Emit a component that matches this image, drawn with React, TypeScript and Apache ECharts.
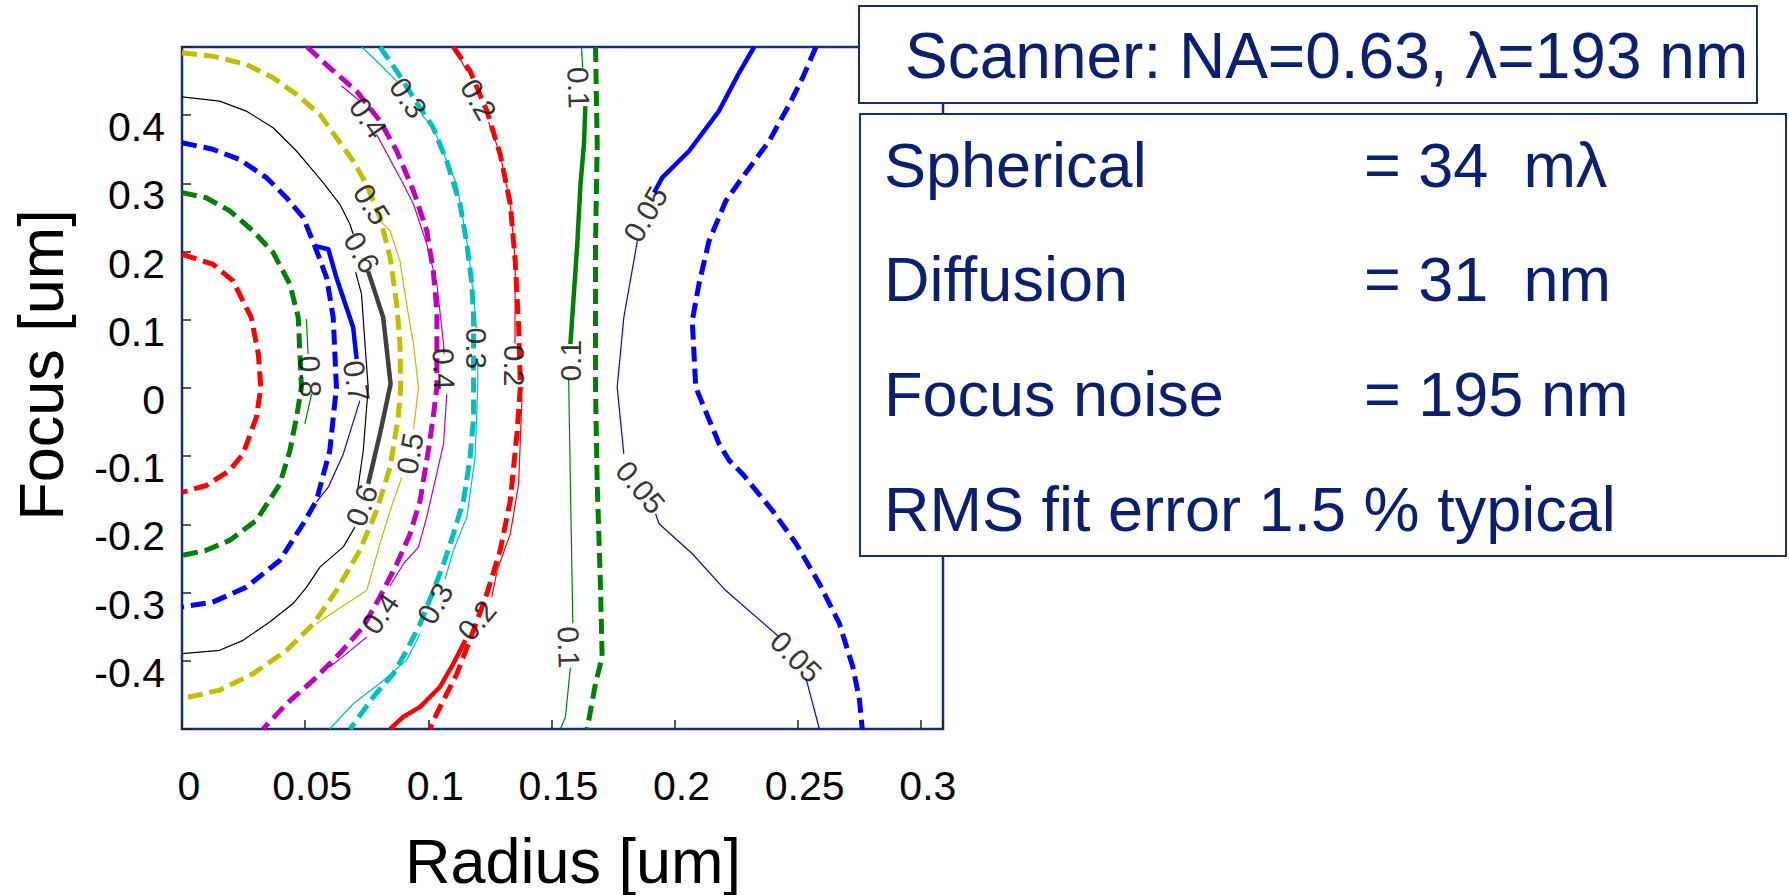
import React, { useEffect, useRef } from 'react';
import * as echarts from 'echarts';

type P = [number, number];

// ---------- axes ----------
const xMin = 0;
const xMax = 0.309;
const xStep = 0.05;
const yMin = -0.5;
const yMax = 0.5;
const yStep = 0.1;
const xTitle = 'Radius [um]';
const yTitle = 'Focus [um]';

// ---------- model contours (thick dashed) ----------
const dash09: P[] = [[0,0.196],[0.0125,0.1815],[0.0207,0.157],[0.0281,0.1035],[0.031,0.05],[0.032,0.0],[0.0302,-0.043],[0.0248,-0.0966],[0.0193,-0.121],[0.0098,-0.143],[0,-0.153]];
const dash08: P[] = [[0,0.2865],[0.0098,0.279],[0.0193,0.26],[0.0288,0.2304],[0.037,0.1986],[0.0438,0.1523],[0.0472,0.1035],[0.0485,0.001],[0.0465,-0.043],[0.0438,-0.092],[0.0397,-0.141],[0.0302,-0.194],[0.0193,-0.2235],[0.0098,-0.238],[0,-0.2455]];
const dash07: P[] = [[0,0.3597],[0.0125,0.35],[0.0234,0.335],[0.0343,0.3084],[0.0424,0.279],[0.0492,0.25],[0.0539,0.2084],[0.0587,0.162],[0.0614,0.1035],[0.0627,0.001],[0.06,-0.092],[0.0546,-0.165],[0.0492,-0.199],[0.0397,-0.253],[0.0261,-0.292],[0.0125,-0.314],[0,-0.321]];
const dash05: P[] = [[0,0.4915],[0.0125,0.4866],[0.0261,0.4744],[0.037,0.4549],[0.0465,0.4305],[0.056,0.4012],[0.0627,0.367],[0.0695,0.3328],[0.0749,0.2987],[0.0804,0.2499],[0.0845,0.1913],[0.0872,0.123],[0.0885,0.0644],[0.0888,0.001],[0.0878,-0.043],[0.0845,-0.116],[0.079,-0.18],[0.0722,-0.238],[0.0627,-0.297],[0.0533,-0.346],[0.0424,-0.385],[0.0288,-0.419],[0.0153,-0.443],[0,-0.4554]];
const dash04: P[] = [[0.0508,0.5],[0.06,0.4695],[0.0709,0.4353],[0.0804,0.3914],[0.0872,0.3475],[0.094,0.2889],[0.0994,0.2304],[0.102,0.1718],[0.1035,0.1132],[0.1035,0.001],[0.102,-0.043],[0.1,-0.092],[0.0967,-0.165],[0.0926,-0.214],[0.0872,-0.258],[0.0804,-0.306],[0.0736,-0.35],[0.0641,-0.389],[0.0533,-0.4285],[0.0424,-0.463],[0.0329,-0.5]];
const dash03: P[] = [[0.0804,0.5],[0.0872,0.4646],[0.094,0.4256],[0.102,0.3817],[0.1075,0.3328],[0.1129,0.2694],[0.1157,0.2108],[0.1177,0.1523],[0.1184,0.1035],[0.1184,0.001],[0.1184,-0.043],[0.117,-0.1015],[0.1143,-0.165],[0.1102,-0.214],[0.1062,-0.258],[0.1021,-0.297],[0.0967,-0.3456],[0.0912,-0.385],[0.0858,-0.419],[0.0777,-0.453],[0.0682,-0.5]];
const dash02: P[] = [[0.1102,0.5],[0.117,0.4646],[0.1238,0.406],[0.1292,0.3426],[0.1333,0.2694],[0.1353,0.1864],[0.1367,0.0888],[0.1374,0.001],[0.136,-0.067],[0.1333,-0.165],[0.1292,-0.238],[0.1238,-0.3016],[0.1184,-0.355],[0.1116,-0.419],[0.1035,-0.477],[0.1007,-0.5]];
const dash01: P[] = [[0.1679,0.5],[0.1686,0.357],[0.1679,0.2108],[0.1679,0.001],[0.1686,-0.1406],[0.1699,-0.287],[0.1706,-0.3944],[0.1679,-0.4334],[0.1645,-0.5]];
const dash005: P[] = [[0.2574,0.5],[0.252,0.4549],[0.2466,0.4158],[0.2384,0.3621],[0.2275,0.3084],[0.2208,0.2743],[0.214,0.2157],[0.2099,0.1523],[0.2072,0.0986],[0.2086,0.001],[0.2181,-0.082],[0.2222,-0.1064],[0.2276,-0.126],[0.2398,-0.18],[0.2493,-0.228],[0.2588,-0.287],[0.2669,-0.345],[0.2724,-0.409],[0.2751,-0.458],[0.2762,-0.5]];

// ---------- measured contours (thin, broken at labels) ----------
const thin005: P[][] = [
  [[0.1849,0.2157],[0.1794,0.1035],[0.1767,0.001],[0.1794,-0.0966]],
  [[0.1923,-0.1845],[0.1937,-0.199],[0.2072,-0.243],[0.2208,-0.297],[0.2425,-0.365]],
  [[0.2534,-0.426],[0.2588,-0.5]],
];
const thin01: P[][] = [
  [[0.1622,0.5],[0.1627,0.4695]],
  [[0.157,0.012],[0.1577,-0.1406],[0.1587,-0.345]],
  [[0.1577,-0.41],[0.1557,-0.482],[0.1537,-0.5]],
];
const thin02: P[][] = [
  [[0.1102,0.5],[0.1157,0.4646]],
  [[0.1245,0.39],[0.1292,0.3426],[0.1333,0.2694],[0.1353,0.1864],[0.1352,0.065]],
  [[0.1375,0.0],[0.138,-0.018],[0.1367,-0.14],[0.1333,-0.214],[0.128,-0.267],[0.1258,-0.3065]],
];
const thin03: P[][] = [
  [[0.073,0.5],[0.0804,0.4744],[0.0872,0.45]],
  [[0.0975,0.4],[0.102,0.3817],[0.1075,0.3328],[0.1116,0.2987],[0.1163,0.201],[0.119,0.1132],[0.1195,0.088]],
  [[0.1201,0.035],[0.1201,0.006],[0.119,-0.1015],[0.1157,-0.189],[0.1102,-0.238],[0.1068,-0.28]],
  [[0.0967,-0.36],[0.0912,-0.399],[0.0804,-0.433],[0.0695,-0.463],[0.06,-0.5]],
];
const thin04: P[][] = [
  [[0.0648,0.4427],[0.0722,0.4207]],
  [[0.079,0.3719],[0.0892,0.3036],[0.094,0.2694],[0.0994,0.2108],[0.1035,0.1523],[0.1062,0.0644],[0.1064,0.05]],
  [[0.1075,-0.0088],[0.1062,-0.082],[0.0994,-0.189],[0.096,-0.2333],[0.0899,-0.2577],[0.0845,-0.29]],
  [[0.075,-0.365],[0.0668,-0.3895],[0.06,-0.409]],
];
const thin05: P[][] = [
  [[0.0804,0.245],[0.0845,0.2304],[0.0885,0.1864],[0.0912,0.123],[0.094,0.0644],[0.096,0.001],[0.0946,-0.043],[0.094,-0.06]],
  [[0.0892,-0.131],[0.0845,-0.18],[0.0804,-0.228],[0.075,-0.297],[0.0627,-0.326],[0.0546,-0.3456]],
];
const thin06: P[][] = [
  [[0,0.427],[0.0153,0.4207],[0.0261,0.406],[0.037,0.3816],[0.0465,0.3475],[0.0533,0.3182],[0.0573,0.3011],[0.0641,0.2694],[0.0682,0.2401],[0.0695,0.2255]],
  [[0.0705,0.17],[0.0729,0.1376],[0.0743,0.0644],[0.0756,0.001],[0.0736,-0.092],[0.0715,-0.145]],
  [[0.0702,-0.204],[0.0655,-0.233],[0.056,-0.2626],[0.0506,-0.292],[0.0451,-0.316],[0.0356,-0.343],[0.0248,-0.37],[0.0153,-0.3846],[0,-0.3895]],
];
const thin07: P[][] = [
  [[0.0722,-0.0185],[0.0655,-0.0966],[0.0594,-0.1455],[0.0546,-0.167]],
];
const thin08: P[][] = [
  [[0.0505,0.101],[0.0512,0.0498]],
  [[0.0526,-0.0088],[0.0499,-0.0527]],
];

// ---------- highlighted (thick solid) parts ----------
const thick005: P[] = [[0.2323,0.5],[0.2262,0.4622],[0.218,0.406],[0.2059,0.3475],[0.195,0.3084],[0.1917,0.2865]];
const thick01: P[] = [[0.1638,0.4134],[0.1632,0.357],[0.1618,0.2987],[0.1605,0.2108],[0.1577,0.0644]];
const thick02: P[] = [[0.115,-0.37],[0.1102,-0.404],[0.1048,-0.438],[0.0967,-0.4675],[0.0899,-0.482],[0.0845,-0.5]];
const thick06: P[] = [[0.0756,0.171],[0.0817,0.1035],[0.0847,0.006],[0.0804,-0.067],[0.0756,-0.1406]];
const thick07: P[] = [[0.0539,0.2084],[0.0594,0.2035],[0.0627,0.162],[0.0695,0.0888],[0.0709,0.0425]];

// ---------- contour labels ----------
const labelTexts = ['0.05','0.05','0.05','0.1','0.1','0.1','0.2','0.2','0.2','0.3','0.3','0.3','0.4','0.4','0.4','0.5','0.5','0.6','0.6','0.7','0.8'];
const labelX = [0.1882,0.1862,0.2493,0.161,0.1577,0.157,0.1204,0.135,0.1197,0.0919,0.1197,0.1028,0.0756,0.1063,0.0804,0.077,0.0926,0.073,0.073,0.0708,0.052];
const labelY = [0.2548,-0.1455,-0.394,0.4402,0.04,-0.38,0.4231,0.0327,-0.3407,0.4256,0.058,-0.316,0.3963,0.0278,-0.331,0.2694,-0.096,0.199,-0.172,0.01,0.017];
const labelAngles = [60,-50,-45,-88,90,-88,-60,-90,50,-55,-90,60,-55,-88,55,-58,80,-60,70,-80,-88];

// ---------- text boxes ----------
const scannerText = 'Scanner: NA=0.63, \u03bb=193 nm';
const infoNames = ['Spherical', 'Diffusion', 'Focus noise', 'RMS fit error 1.5 % typical'];
const infoValues = ['= 34\u00a0\u00a0m\u03bb', '= 31\u00a0\u00a0nm', '= 195 nm', ''];

// ---------- styles ----------
const RED = '#ff0000';
const GREEN = '#008000';
const BLUE = '#0000ff';
const CYAN = '#00bfbf';
const MAGENTA = '#bf00bf';
const YELLOW = '#bfbf00';
const BLACK = '#000000';
const DARK = '#404040';
const NAVY = '#14307a';
const TEXTC = '#0a1f72';
const FONT = '"Liberation Sans", Arial, Helvetica, sans-serif';

function lineS(data: P[], color: string, width: number, dashed: boolean, z: number) {
  return {
    type: 'line',
    data,
    showSymbol: false,
    symbol: 'none',
    silent: true,
    z,
    lineStyle: { color, width, type: dashed ? [15, 7] : 'solid', cap: 'butt', join: 'round' },
    animation: false,
  };
}

const fmt = (v: number) => String(Number(v.toFixed(2)));

export default function App() {
  const ref = useRef<HTMLDivElement>(null);
  useEffect(() => {
    if (!ref.current) return;
    const chart = echarts.init(ref.current, undefined, { renderer: 'svg' });

    const series: any[] = [];
    const thinSets: [P[][], string][] = [
      [thin005, BLUE], [thin01, GREEN], [thin02, RED], [thin03, CYAN], [thin04, MAGENTA],
      [thin05, YELLOW], [thin06, BLACK], [thin07, BLUE], [thin08, GREEN],
    ];
    thinSets.forEach(([segs, c]) => segs.forEach((s) => series.push(lineS(s, c, 1.2, false, 2))));
    const dashSets: [P[], string][] = [
      [dash09, RED], [dash08, GREEN], [dash07, BLUE], [dash05, YELLOW], [dash04, MAGENTA],
      [dash03, CYAN], [dash02, RED], [dash01, GREEN], [dash005, BLUE],
    ];
    dashSets.forEach(([d, c]) => series.push(lineS(d, c, 5, true, 3)));
    const thickSets: [P[], string][] = [
      [thick005, BLUE], [thick01, GREEN], [thick02, RED], [thick06, DARK], [thick07, BLUE],
    ];
    thickSets.forEach(([d, c]) => series.push(lineS(d, c, 4.5, false, 4)));

    series.push({
      type: 'scatter',
      silent: true,
      z: 5,
      symbol: 'circle',
      symbolSize: 2,
      itemStyle: { color: 'rgba(0,0,0,0)' },
      data: labelTexts.map((t, i) => ({
        name: t,
        value: [labelX[i], labelY[i]],
        label: { rotate: labelAngles[i] },
      })),
      label: {
        show: true,
        position: 'inside',
        formatter: '{b}',
        fontSize: 30,
        fontFamily: FONT,
        color: '#000',
        align: 'center',
        verticalAlign: 'middle',
      },
      labelLayout: { hideOverlap: false },
      animation: false,
    });

    const graphic: any[] = [
      {
        type: 'text', z: 50, x: 573, y: 861,
        style: { text: xTitle, fill: '#000', fontSize: 63, fontFamily: FONT, textAlign: 'center', textVerticalAlign: 'middle', align: 'center', verticalAlign: 'middle' },
      },
      {
        type: 'text', z: 50, x: 41, y: 365, rotation: Math.PI / 2,
        style: { text: yTitle, fill: '#000', fontSize: 63, fontFamily: FONT, textAlign: 'center', textVerticalAlign: 'middle', align: 'center', verticalAlign: 'middle' },
      },
      {
        type: 'rect', z: 100,
        shape: { x: 859, y: 6, width: 898, height: 97 },
        style: { fill: '#ffffff', stroke: NAVY, lineWidth: 2 },
      },
      {
        type: 'rect', z: 100,
        shape: { x: 860, y: 114, width: 926, height: 442 },
        style: { fill: '#ffffff', stroke: NAVY, lineWidth: 2 },
      },
      {
        type: 'text', z: 101, x: 905, y: 56,
        style: { text: scannerText, fill: TEXTC, fontSize: 64, fontFamily: FONT, textAlign: 'left', textVerticalAlign: 'middle', align: 'left', verticalAlign: 'middle' },
      },
    ];
    const rowY = [165, 279, 394, 509];
    infoNames.forEach((n, i) => {
      graphic.push({
        type: 'text', z: 101, x: 884, y: rowY[i],
        style: { text: n, fill: TEXTC, fontSize: 63, fontFamily: FONT, textAlign: 'left', textVerticalAlign: 'middle', align: 'left', verticalAlign: 'middle' },
      });
      if (infoValues[i]) {
        graphic.push({
          type: 'text', z: 101, x: 1364, y: rowY[i],
          style: { text: infoValues[i], fill: TEXTC, fontSize: 63, fontFamily: FONT, textAlign: 'left', textVerticalAlign: 'middle', align: 'left', verticalAlign: 'middle' },
        });
      }
    });

    chart.setOption({
      animation: false,
      backgroundColor: '#ffffff',
      grid: {
        left: 182, right: 846, top: 47, bottom: 166,
        show: true, borderColor: NAVY, borderWidth: 2.5, backgroundColor: 'transparent',
      },
      xAxis: {
        type: 'value', min: xMin, max: xMax, interval: xStep,
        axisLine: { show: false, onZero: false },
        splitLine: { show: false },
        axisTick: { show: true, inside: true, length: 9, lineStyle: { color: '#222', width: 1.5 } },
        axisLabel: {
          color: '#000', fontSize: 41, fontFamily: FONT, margin: 36, padding: [0, 0, 0, 14],
          formatter: (v: number) => (v > 0.301 ? '' : fmt(v)),
        },
      },
      yAxis: {
        type: 'value', min: yMin, max: yMax, interval: yStep,
        axisLine: { show: false, onZero: false },
        splitLine: { show: false },
        axisTick: { show: true, inside: true, length: 9, lineStyle: { color: '#222', width: 1.5 } },
        axisLabel: {
          color: '#000', fontSize: 41, fontFamily: FONT, margin: 17,
          verticalAlign: 'top', lineHeight: 24,
          formatter: (v: number) => (Math.abs(Math.abs(v) - 0.5) < 1e-6 ? '' : fmt(v)),
        },
      },
      series,
      graphic,
    });
    return () => chart.dispose();
  }, []);
  return <div ref={ref} style={{ position: 'absolute', left: 0, top: 0, width: 1789, height: 895 }} />;
}
